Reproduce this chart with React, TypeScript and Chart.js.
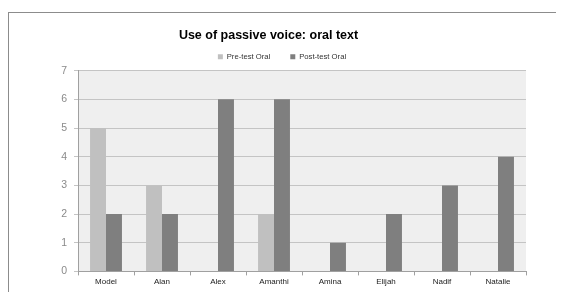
import React, { useEffect, useRef } from "react";
import { Chart, registerables } from "chart.js";
Chart.register(...registerables);

const categories = ["Model", "Alan", "Alex", "Amanthi", "Amina", "Elijah", "Nadif", "Natalie"];
const preTest = [5, 3, 0, 2, 0, 0, 0, 0];
const postTest = [2, 2, 6, 6, 1, 2, 3, 4];
const seriesNames = ["Pre-test Oral", "Post-test Oral"];
const titleText = "Use of passive voice: oral text";
const yMin = 0;
const yMax = 7;

const FONT = "'Liberation Sans', Arial, sans-serif";

const bgPlugin = {
  id: "plotBg",
  beforeDraw(chart: any) {
    const { ctx, chartArea } = chart;
    ctx.save();
    ctx.fillStyle = "#efefef";
    ctx.fillRect(chartArea.left, chartArea.top, chartArea.right - chartArea.left, chartArea.bottom - chartArea.top);
    ctx.restore();
  },
};

const titlePlugin = {
  id: "customTitle",
  afterDraw(chart: any) {
    const { ctx } = chart;
    ctx.save();
    ctx.font = `bold 12.5px ${FONT}`;
    ctx.fillStyle = "#000";
    ctx.textAlign = "center";
    ctx.textBaseline = "middle";
    ctx.fillText(titleText, 259.5, 22.5);
    ctx.restore();
  },
};

export default function App() {
  const ref = useRef<HTMLCanvasElement>(null);
  useEffect(() => {
    Chart.defaults.font.family = FONT;
    const chart = new Chart(ref.current!, {
      type: "bar",
      data: {
        labels: categories,
        datasets: [
          { label: seriesNames[0], data: preTest, backgroundColor: "#c0c0c0", borderWidth: 0 },
          { label: seriesNames[1], data: postTest, backgroundColor: "#7f7f7f", borderWidth: 0 },
        ],
      },
      options: {
        animation: false,
        responsive: false,
        maintainAspectRatio: false,
        layout: { padding: { left: 29, right: 30, top: 20, bottom: 3 } },
        datasets: { bar: { categoryPercentage: 0.57, barPercentage: 1 } },
        plugins: {
          title: { display: false },
          tooltip: { enabled: false },
          legend: {
            position: "top",
            labels: {
              boxWidth: 5,
              boxHeight: 5,
              padding: 20,
              color: "#333",
              font: { size: 7.7, family: FONT },
            },
          },
        },
        scales: {
          x: {
            grid: { drawOnChartArea: false, drawTicks: true, tickLength: 4, offset: true, color: "#a0a0a0" },
            border: { color: "#a0a0a0" },
            ticks: { color: "#222", font: { size: 8, family: FONT }, padding: 2 },
          },
          y: {
            min: yMin,
            max: yMax,
            afterFit(scale: any) {
              scale.width = 40;
            },
            grid: { color: "#c4c4c4", lineWidth: 1, tickLength: 4 },
            border: { color: "#a0a0a0" },
            ticks: { stepSize: 1, color: "#8a8a8a", font: { size: 10.5, family: FONT }, padding: 7 },
          },
        },
      },
      plugins: [bgPlugin, titlePlugin],
    });
    return () => chart.destroy();
  }, []);
  return (
    <div style={{ paddingTop: 4 }}>
      <div
        style={{
          width: 548,
          height: 280,
          borderTop: "1px solid #8c8c8c",
          borderLeft: "1px solid #8c8c8c",
          boxSizing: "border-box",
          background: "#fff",
        }}
      >
        <canvas ref={ref} width={547} height={279} style={{ display: "block", width: 547, height: 279 }} />
      </div>
    </div>
  );
}
